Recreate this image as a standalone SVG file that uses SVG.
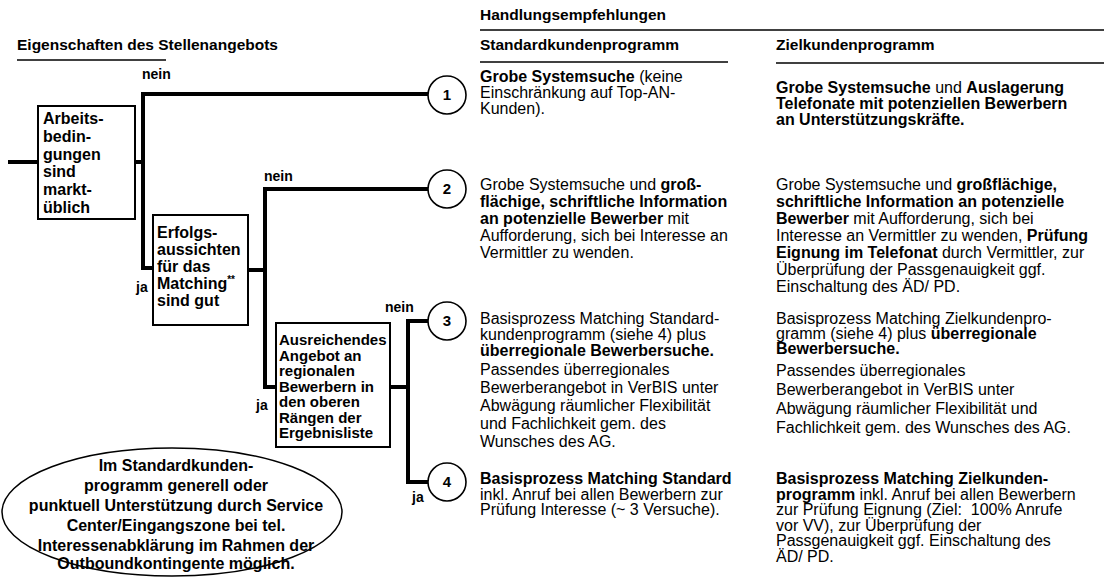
<svg xmlns="http://www.w3.org/2000/svg" width="1104" height="577" viewBox="0 0 1104 577">
<style>
text{font-family:"Liberation Sans",Arial,sans-serif;fill:#000}
.h{font-size:15.5px;font-weight:bold}
.t{font-size:16px}
.b{font-weight:bold}
.bx{font-size:16px;font-weight:bold}
.bx3{font-size:15px;font-weight:bold}
.lb{font-size:14px;font-weight:bold}
.num{font-size:15px;font-weight:bold;text-anchor:middle}
.el{font-size:16px;font-weight:bold;text-anchor:middle}
.rule{stroke:#000;stroke-width:1.5}
.box{fill:#fff;stroke:#000;stroke-width:2}
.circ{fill:#fff;stroke:#000;stroke-width:1.6}
.con{fill:none;stroke:#000;stroke-width:4;stroke-linejoin:miter;stroke-linecap:butt}
</style>
<g id="headers">
<text class="h" x="17" y="50">Eigenschaften des Stellenangebots</text>
<line class="rule" x1="17" y1="60" x2="166" y2="60"/>
<text class="h" x="480" y="20">Handlungsempfehlungen</text>
<line class="rule" x1="480" y1="30" x2="1104" y2="30"/>
<text class="h" x="480" y="50">Standardkundenprogramm</text>
<line class="rule" x1="480" y1="62" x2="728" y2="62"/>
<text class="h" x="776" y="50">Zielkundenprogramm</text>
<line class="rule" x1="776" y1="63" x2="1104" y2="63"/>
</g>
<g id="connectors">
<path class="con" d="M8,162 H38"/>
<path class="con" d="M135,162 H143"/>
<path class="con" d="M153,268 H143 V94 H428"/>
<path class="con" d="M248,270 H265"/>
<path class="con" d="M276,387 H265 V189 H428"/>
<path class="con" d="M390,387 H408"/>
<path class="con" d="M428,482 H408 V321 H428"/>
<text class="lb" x="142" y="79">nein</text>
<text class="lb" x="136" y="292">ja</text>
<text class="lb" x="264" y="181">nein</text>
<text class="lb" x="256" y="410">ja</text>
<text class="lb" x="385" y="312">nein</text>
<text class="lb" x="412" y="502">ja</text>
</g>
<g id="node-arbeitsbedingungen">
<rect class="box" x="38" y="106" width="97" height="113"/>
<text class="bx" x="43" y="124">Arbeits-</text>
<text class="bx" x="43" y="141.8">bedin-</text>
<text class="bx" x="43" y="159.6">gungen</text>
<text class="bx" x="43" y="177.4">sind</text>
<text class="bx" x="43" y="195.2">markt-</text>
<text class="bx" x="43" y="213">üblich</text>
</g>
<g id="node-erfolgsaussichten">
<rect class="box" x="153" y="215" width="95" height="110"/>
<text class="bx" x="157" y="238">Erfolgs-</text>
<text class="bx" x="157" y="255">aussichten</text>
<text class="bx" x="157" y="272">für das</text>
<text class="bx" x="157" y="289">Matching<tspan font-size="10" dy="-6">**</tspan></text>
<text class="bx" x="157" y="306">sind gut</text>
</g>
<g id="node-angebot">
<rect class="box" x="276" y="323" width="114" height="124"/>
<text class="bx3" x="279" y="345">Ausreichendes</text>
<text class="bx3" x="279" y="360.5">Angebot an</text>
<text class="bx3" x="279" y="376">regionalen</text>
<text class="bx3" x="279" y="391.5">Bewerbern in</text>
<text class="bx3" x="279" y="407">den oberen</text>
<text class="bx3" x="279" y="422.5">Rängen der</text>
<text class="bx3" x="279" y="438">Ergebnisliste</text>
</g>
<g id="node-1"><circle class="circ" cx="447" cy="95" r="19"/><text class="num" x="447" y="100">1</text></g>
<g id="node-2"><circle class="circ" cx="447" cy="189" r="19"/><text class="num" x="447" y="194">2</text></g>
<g id="node-3"><circle class="circ" cx="447" cy="321" r="19"/><text class="num" x="447" y="326">3</text></g>
<g id="node-4"><circle class="circ" cx="447" cy="482" r="19"/><text class="num" x="447" y="487">4</text></g>
<g id="row1-standard" class="t">
<text class="t" x="480" y="82"><tspan class="b">Grobe Systemsuche</tspan> (keine</text>
<text class="t" x="480" y="98">Einschränkung auf Top-AN-</text>
<text class="t" x="480" y="114">Kunden).</text>
</g>
<g id="row1-ziel">
<text class="t" x="776" y="93"><tspan class="b">Grobe Systemsuche</tspan> und <tspan class="b">Auslagerung</tspan></text>
<text class="t b" x="776" y="109">Telefonate mit potenziellen Bewerbern</text>
<text class="t b" x="776" y="125">an Unterstützungskräfte.</text>
</g>
<g id="row2-standard">
<text class="t" x="480" y="190">Grobe Systemsuche und <tspan class="b">groß-</tspan></text>
<text class="t b" x="480" y="207">flächige, schriftliche Information</text>
<text class="t" x="480" y="224"><tspan class="b">an potenzielle Bewerber</tspan> mit</text>
<text class="t" x="480" y="241">Aufforderung, sich bei Interesse an</text>
<text class="t" x="480" y="258">Vermittler zu wenden.</text>
</g>
<g id="row2-ziel">
<text class="t" x="776" y="190">Grobe Systemsuche und <tspan class="b">großflächige,</tspan></text>
<text class="t b" x="776" y="207">schriftliche Information an potenzielle</text>
<text class="t" x="776" y="224"><tspan class="b">Bewerber</tspan> mit Aufforderung, sich bei</text>
<text class="t" x="776" y="241">Interesse an Vermittler zu wenden, <tspan class="b">Prüfung</tspan></text>
<text class="t" x="776" y="258"><tspan class="b">Eignung im Telefonat</tspan> durch Vermittler, zur</text>
<text class="t" x="776" y="275">Überprüfung der Passgenauigkeit ggf.</text>
<text class="t" x="776" y="292">Einschaltung des ÄD/ PD.</text>
</g>
<g id="row3-standard">
<text class="t" x="480" y="324">Basisprozess Matching Standard-</text>
<text class="t" x="480" y="340">kundenprogramm (siehe 4) plus</text>
<text class="t b" x="480" y="356">überregionale Bewerbersuche.</text>
<text class="t" x="480" y="375">Passendes überregionales</text>
<text class="t" x="480" y="393">Bewerberangebot in VerBIS unter</text>
<text class="t" x="480" y="411">Abwägung räumlicher Flexibilität</text>
<text class="t" x="480" y="429">und Fachlichkeit gem. des</text>
<text class="t" x="480" y="447">Wunsches des AG.</text>
</g>
<g id="row3-ziel">
<text class="t" x="776" y="324">Basisprozess Matching Zielkundenpro-</text>
<text class="t" x="776" y="339">gramm (siehe 4) plus <tspan class="b">überregionale</tspan></text>
<text class="t b" x="776" y="354">Bewerbersuche.</text>
<text class="t" x="776" y="376">Passendes überregionales</text>
<text class="t" x="776" y="395">Bewerberangebot in VerBIS unter</text>
<text class="t" x="776" y="414">Abwägung räumlicher Flexibilität und</text>
<text class="t" x="776" y="433">Fachlichkeit gem. des Wunsches des AG.</text>
</g>
<g id="row4-standard">
<text class="t b" x="480" y="484">Basisprozess Matching Standard</text>
<text class="t" x="480" y="499.5">inkl. Anruf bei allen Bewerbern zur</text>
<text class="t" x="480" y="515">Prüfung Interesse (~ 3 Versuche).</text>
</g>
<g id="row4-ziel">
<text class="t b" x="776" y="484">Basisprozess Matching Zielkunden-</text>
<text class="t" x="776" y="499.5"><tspan class="b">programm</tspan> inkl. Anruf bei allen Bewerbern</text>
<text class="t" x="776" y="515">zur Prüfung Eignung (Ziel:&#160; 100% Anrufe</text>
<text class="t" x="776" y="530.5">vor VV), zur Überprüfung der</text>
<text class="t" x="776" y="546">Passgenauigkeit ggf. Einschaltung des</text>
<text class="t" x="776" y="561.5">ÄD/ PD.</text>
</g>
<g id="note-ellipse">
<ellipse cx="172" cy="512" rx="170" ry="64" fill="#fff" stroke="#000" stroke-width="1.5"/>
<text class="el" x="176" y="471">Im Standardkunden-</text>
<text class="el" x="176" y="491">programm generell oder</text>
<text class="el" x="176" y="511">punktuell Unterstützung durch Service</text>
<text class="el" x="176" y="531">Center/Eingangszone bei tel.</text>
<text class="el" x="176" y="551">Interessenabklärung im Rahmen der</text>
<text class="el" x="176" y="569">Outboundkontingente möglich.</text>
</g>
</svg>
